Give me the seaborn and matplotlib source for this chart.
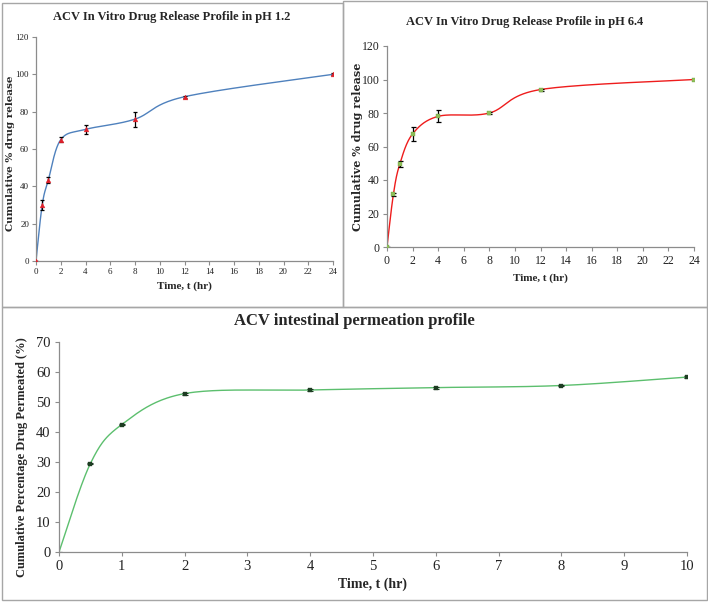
import numpy as np
import pandas as pd
import matplotlib
matplotlib.use("Agg")
import matplotlib.pyplot as plt
import seaborn as sns
from matplotlib.patches import Rectangle

# Data
time_release = [0, 0.5, 1, 2, 4, 8, 12, 24]
ph12_release = [0, 30, 43.5, 65, 70.5, 76, 88, 100]
ph12_err = [0, 2.5, 1.5, 1.5, 2.5, 4, 0.6, 0.5]
ph64_release = [0, 31.5, 49.5, 67.5, 78, 80, 94, 100]
ph64_err = [0, 1.0, 2.0, 4.0, 3.5, 0.6, 0.6, 0.5]

time_perm = [0, 0.5, 1, 2, 4, 6, 8, 10]
perm = [0, 29.5, 42.5, 52.8, 54, 54.8, 55.5, 58.3]
perm_err = [0, 0.3, 0.3, 0.3, 0.3, 0.3, 0.3, 0.3]

release_ticks = list(range(0, 25, 2))
release_yticks = list(range(0, 121, 20))
perm_xticks = list(range(0, 11))
perm_yticks = list(range(0, 71, 10))


def smooth_curve(x, y, xr, yr, n=40):
    # Excel-like smoothed line: parametric Catmull-Rom in normalised space
    x = np.asarray(x, float) / xr
    y = np.asarray(y, float) / yr
    px = np.concatenate([[x[0]], x, [x[-1]]])
    py = np.concatenate([[y[0]], y, [y[-1]]])
    out_x, out_y = [], []
    t = np.linspace(0, 1, n)
    for i in range(1, len(px) - 2):
        p0, p1, p2, p3 = [np.array([px[j], py[j]]) for j in (i - 1, i, i + 1, i + 2)]
        c1 = p1 + (p2 - p0) / 6
        c2 = p2 - (p3 - p1) / 6
        b = ((1 - t) ** 3)[:, None] * p1 + (3 * (1 - t) ** 2 * t)[:, None] * c1 \
            + (3 * (1 - t) * t ** 2)[:, None] * c2 + (t ** 3)[:, None] * p2
        out_x.extend(b[:, 0])
        out_y.extend(b[:, 1])
    return np.array(out_x) * xr, np.array(out_y) * yr


sns.set_style("ticks")
plt.rcParams['font.family'] = ['Liberation Serif', 'DejaVu Serif']
wide_bold = ['DejaVu Serif']

fig = plt.figure(figsize=(7.08, 6.02), dpi=100)

# panel frames
for (x0, y0, x1, y1) in [(2, 3, 343, 307), (343, 1, 707, 307), (2, 307, 707, 600)]:
    fig.add_artist(Rectangle((x0 / 708, 1 - y1 / 602), (x1 - x0) / 708, (y1 - y0) / 602,
                             transform=fig.transFigure, fill=False,
                             edgecolor='#a6a6a6', linewidth=1.0))

ax1 = fig.add_axes([36 / 708, 1 - 261 / 602, 297 / 708, 224 / 602])
ax2 = fig.add_axes([387 / 708, 1 - 247 / 602, 307 / 708, 201 / 602])
ax3 = fig.add_axes([59 / 708, 1 - 552 / 602, 628 / 708, 210 / 602])


def style_axis(ax, fs, pad=2.5):
    sns.despine(ax=ax)
    for s in ['left', 'bottom']:
        ax.spines[s].set_color('#8c8c8c')
        ax.spines[s].set_linewidth(0.9)
    ax.tick_params(axis='both', colors='#8c8c8c', labelcolor='#222222',
                   labelsize=fs, length=3, width=0.8, direction='out', pad=pad)


# pH 1.2
cx, cy = smooth_curve(time_release, ph12_release, 24, 120)
sns.lineplot(x=cx, y=cy, ax=ax1, color='#4f81bd', linewidth=1.0, sort=False, estimator=None)
ax1.errorbar(time_release, ph12_release, yerr=ph12_err, fmt='none', ecolor='black',
             elinewidth=0.9, capsize=1.5, capthick=0.9)
sns.scatterplot(x=time_release, y=ph12_release, ax=ax1, marker='^', s=12,
                color='#e0202a', edgecolor='#e0202a', zorder=5)
ax1.set_xlim(0, 24)
ax1.set_ylim(0, 120)
ax1.set_xticks(release_ticks)
ax1.set_yticks(release_yticks)
style_axis(ax1, 6.5, pad=2)
ax1.set_xlabel('Time, t (hr)', fontsize=8, fontweight='bold', labelpad=4)
ax1.set_ylabel('Cumulative % drug release', fontsize=7.5, fontweight='bold',
               family=wide_bold)
ax1.yaxis.set_label_coords(-0.07, 0.48)
fig.text(172 / 708, 1 - 17 / 602, 'ACV In Vitro Drug Release Profile in pH 1.2',
         ha='center', va='center', fontsize=9, fontweight='bold')

# pH 6.4
cx, cy = smooth_curve(time_release, ph64_release, 24, 120)
sns.lineplot(x=cx, y=cy, ax=ax2, color='#ee1c1c', linewidth=1.0, sort=False, estimator=None)
ax2.errorbar(time_release, ph64_release, yerr=ph64_err, fmt='none', ecolor='black',
             elinewidth=0.9, capsize=1.8, capthick=0.9)
sns.scatterplot(x=time_release, y=ph64_release, ax=ax2, marker='s', s=10,
                color='#8fbf5a', edgecolor='#6a9a3a', zorder=5)
ax2.set_xlim(0, 24)
ax2.set_ylim(0, 120)
ax2.set_xticks(release_ticks)
ax2.set_yticks(release_yticks)
style_axis(ax2, 8.5, pad=2.5)
ax2.set_xlabel('Time, t (hr)', fontsize=8, fontweight='bold', labelpad=5)
ax2.set_ylabel('Cumulative % drug release', fontsize=8, fontweight='bold',
               family=wide_bold)
ax2.yaxis.set_label_coords(-0.078, 0.5)
fig.text(525 / 708, 1 - 22 / 602, 'ACV In Vitro Drug Release Profile in pH 6.4',
         ha='center', va='center', fontsize=9, fontweight='bold')

# intestinal permeation
cx, cy = smooth_curve(time_perm, perm, 10, 70)
sns.lineplot(x=cx, y=cy, ax=ax3, color='#5cbf6e', linewidth=1.0, sort=False, estimator=None)
ax3.errorbar(time_perm, perm, yerr=perm_err, fmt='none', ecolor='#1a3320',
             elinewidth=0.8, capsize=2.5, capthick=0.8)
sns.scatterplot(x=time_perm[1:], y=perm[1:], ax=ax3, marker='s', s=10,
                color='#1d3d22', edgecolor='#1d3d22', zorder=5)
ax3.set_xlim(0, 10)
ax3.set_ylim(0, 70)
ax3.set_xticks(perm_xticks)
ax3.set_yticks(perm_yticks)
style_axis(ax3, 10.5, pad=3)
ax3.set_xlabel('Time, t (hr)', fontsize=10, fontweight='bold', labelpad=3)
ax3.set_ylabel('Cumulative Percentage Drug Permeated (%)', fontsize=9, fontweight='bold')
ax3.yaxis.set_label_coords(-0.05, 0.45)
fig.text(354 / 708, 1 - 321 / 602, 'ACV intestinal permeation profile',
         ha='center', va='center', fontsize=12, fontweight='bold')

fig.savefig('out.png', dpi=100)
